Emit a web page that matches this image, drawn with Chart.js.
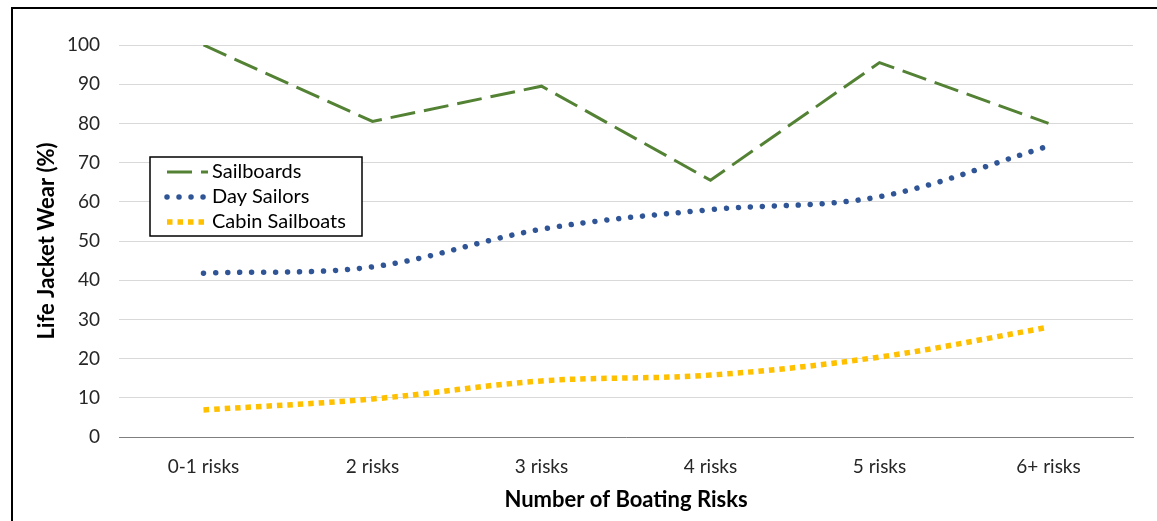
<!DOCTYPE html>
<html>
<head>
<meta charset="utf-8">
<script src="https://cdn.jsdelivr.net/npm/chart.js@4/dist/chart.umd.min.js"></script>
<style>
  html, body { margin: 0; padding: 0; background: #fff; overflow: hidden; }
  #wrap { position: relative; width: 1157px; height: 521px; }
  #frame { position: absolute; left: 11px; top: 7px; width: 1200px; height: 600px;
           border-left: 2px solid #000; border-top: 2px solid #000; pointer-events: none; }
</style>
</head>
<body>
<div id="wrap">
  <canvas id="myChart" width="1157" height="521"></canvas>
  <div id="frame"></div>
</div>
<script>
const categories = ['0-1 risks', '2 risks', '3 risks', '4 risks', '5 risks', '6+ risks'];
const sailboards = [100, 80.5, 89.5, 65.5, 95.5, 80];
const daySailors = [41.8, 43.4, 53, 58, 61.3, 74.2];
const cabinSailboats = [6.9, 9.7, 14.3, 15.8, 20.4, 28];
const yTicks = [0, 10, 20, 30, 40, 50, 60, 70, 80, 90, 100];

const FONT = 'Lato, "Open Sans", sans-serif';

const legendBox = {
  id: 'legendBox',
  afterDraw(chart) {
    const c = chart.ctx;
    const x0 = 150, y0 = 157, w = 212, h = 79;
    c.save();
    c.fillStyle = '#fff';
    c.fillRect(x0, y0, w, h);
    c.lineWidth = 1.5;
    c.strokeStyle = '#000';
    c.strokeRect(x0, y0, w, h);
    chart.data.datasets.forEach((ds, i) => {
      const y = y0 + 15 + i * 25;
      c.beginPath();
      c.strokeStyle = ds.borderColor;
      c.lineWidth = ds.borderWidth;
      c.lineCap = ds.borderCapStyle || 'butt';
      c.setLineDash(ds.borderDash || []);
      c.moveTo(167, y);
      c.lineTo(208, y);
      c.stroke();
      c.setLineDash([]);
      c.fillStyle = '#000';
      c.font = '20px ' + FONT;
      c.textBaseline = 'middle';
      c.textAlign = 'left';
      c.fillText(ds.label, 212, y);
    });
    c.restore();
  }
};

document.addEventListener('DOMContentLoaded', () => {
  const ctx = document.getElementById('myChart');
  window.chart = new Chart(ctx, {
    type: 'line',
    data: {
      labels: categories,
      datasets: [{
        label: 'Sailboards',
        data: sailboards,
        borderColor: '#548235',
        borderWidth: 3,
        borderDash: [25, 9],
        tension: 0,
        pointRadius: 0,
        fill: false
      }, {
        label: 'Day Sailors',
        data: daySailors,
        borderColor: '#2F5597',
        borderWidth: 5.5,
        borderDash: [0.01, 12],
        borderCapStyle: 'round',
        tension: 0.35,
        pointRadius: 0,
        fill: false
      }, {
        label: 'Cabin Sailboats',
        data: cabinSailboats,
        borderColor: '#FFC000',
        borderWidth: 5.5,
        borderDash: [5.5, 5],
        tension: 0.35,
        pointRadius: 0,
        fill: false
      }]
    },
    plugins: [legendBox],
    options: {
      responsive: false,
      animation: false,
      layout: { padding: { top: 45, right: 24, left: 0, bottom: 0 } },
      plugins: {
        legend: { display: false },
        tooltip: { enabled: false }
      },
      scales: {
        x: {
          offset: true,
          grid: { display: false, drawTicks: false },
          border: { display: true, color: '#7f7f7f', width: 1 },
          ticks: { color: '#262626', font: { family: FONT, size: 19 }, padding: 18, maxRotation: 0 },
          title: { display: true, text: 'Number of Boating Risks', color: '#000',
                   font: { family: FONT, size: 22, weight: 'bold' }, padding: { top: 0, bottom: 8 } },
          afterFit(scale) { scale.height = 84; }
        },
        y: {
          min: 0,
          max: 100,
          grid: { color: '#d9d9d9', drawTicks: false },
          border: { display: false },
          afterBuildTicks(scale) { scale.ticks = yTicks.map(v => ({ value: v })); },
          ticks: { color: '#262626', font: { family: FONT, size: 19 }, padding: 19 },
          title: { display: true, text: 'Life Jacket Wear (%)', color: '#000',
                   font: { family: FONT, size: 22, weight: 'bold' }, padding: { top: 34, bottom: 0 } },
          afterFit(scale) { scale.width = 119; }
        }
      }
    }
  });
});
</script>
</body>
</html>
